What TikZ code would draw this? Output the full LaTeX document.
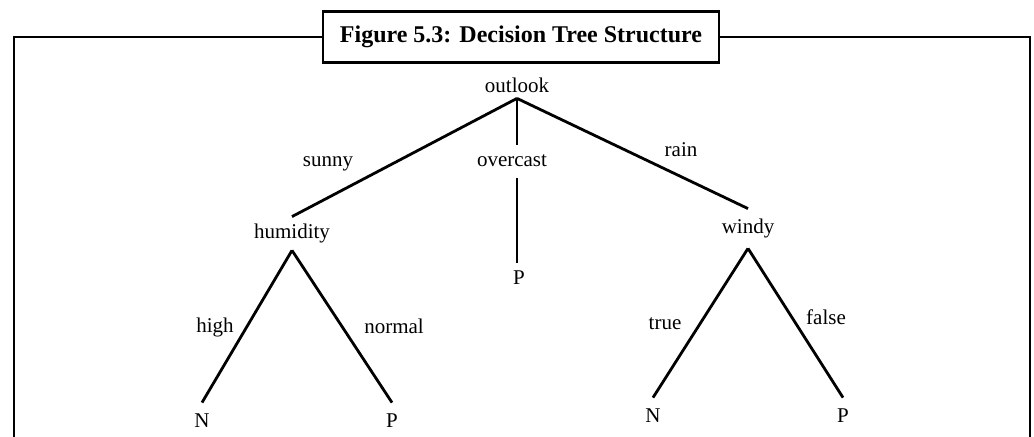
\documentclass[tikz,border=0pt]{standalone}
\usepackage{fontspec}
\newfontfamily\labelfont{Liberation Serif}
\usetikzlibrary{calc}

\begin{document}
\begin{tikzpicture}[x=0.5pt,y=-0.5pt,
  frame/.style={line width=1.2pt,color=black},
  branch/.style={line width=1.4pt,color=black},
  attr/.style={font=\labelfont\fontsize{10.5}{12}\selectfont,text height=7.5pt,text depth=2pt,inner xsep=0pt,inner ysep=3.5pt,anchor=base},
  leaf/.style={attr,inner ysep=5pt},
  val/.style={attr,inner sep=0pt}]
\useasboundingbox (0,0) rectangle (1034,437);

\node[draw,line width=1.2pt,minimum width=198pt,minimum height=25.5pt,inner sep=0pt,font=\labelfont\bfseries\fontsize{12}{14}\selectfont] (title) at (521,37) {Figure 5.3: Decision Tree Structure};
\draw[frame] (14,437) -- (14,37) -- (title.west);
\draw[frame] (title.east) -- (1030,37) -- (1030,437);

\node[attr,inner ysep=0.5pt] (outlook) at (517,93) {outlook};
\node[attr] (humidity) at (292,239) {humidity};
\node[attr] (overcast) at (512,167) {overcast};
\node[attr,inner ysep=5pt] (windy) at (748,234) {windy};
\node[leaf] (hN) at (202,428) {N};
\node[leaf] (hP) at (392,428) {P};
\node[leaf,inner ysep=3.5pt] (oP) at (519,285) {P};
\node[leaf] (wN) at (653,423) {N};
\node[leaf] (wP) at (843,423) {P};

\node[val] (sunny) at (328,167) {sunny};
\node[val] (rain) at (681,157) {rain};
\node[val] (high) at (215,333) {high};
\node[val] (normal) at (394,334) {normal};
\node[val] (true) at (665,330) {true};
\node[val] (false) at (826,325) {false};

\draw[branch] (outlook.south) -- (humidity.north);
\draw[branch] (outlook.south) -- (outlook.south |- overcast.north);
\draw[branch] (outlook.south |- overcast.south) -- (outlook.south |- oP.north);
\draw[branch] (outlook.south) -- (windy.north);
\draw[branch] (humidity.south) -- (hN.north);
\draw[branch] (humidity.south) -- (hP.north);
\draw[branch] (windy.south) -- (wN.north);
\draw[branch] (windy.south) -- (wP.north);

\end{tikzpicture}
\end{document}
